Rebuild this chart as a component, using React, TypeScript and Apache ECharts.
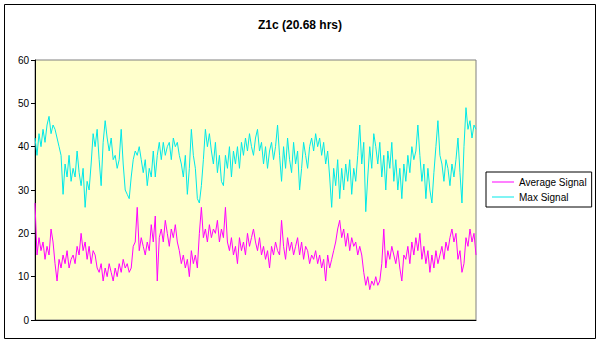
import React, { useEffect, useRef } from "react";
import * as echarts from "echarts";

const title = "Z1c (20.68 hrs)";
const seriesNames = ["Average Signal", "Max Signal"];
const yTicks = { min: 0, max: 60, interval: 10 };

const maxSignal = [
  42, 38, 43, 40, 44, 41, 45, 47, 43, 45,
  44, 42, 40, 38, 29, 36, 33, 38, 32, 35,
  33, 39, 34, 31, 35, 26, 32, 30, 36, 43,
  40, 44, 37, 31, 41, 46, 42, 39, 42, 37,
  38, 35, 37, 44, 36, 30, 29, 28, 33, 37,
  39, 38, 40, 37, 34, 37, 31, 35, 33, 39,
  33, 38, 41, 37, 41, 38, 40, 41, 37, 42,
  40, 41, 38, 36, 33, 38, 29, 35, 44, 38,
  35, 28, 27, 31, 37, 44, 40, 43, 39, 36,
  41, 34, 38, 32, 31, 38, 35, 40, 33, 39,
  36, 40, 35, 41, 38, 42, 39, 43, 40, 38,
  42, 44, 39, 41, 36, 40, 35, 39, 41, 37,
  40, 45, 38, 32, 40, 35, 42, 37, 34, 41,
  36, 39, 30, 35, 41, 38, 35, 40, 42, 39,
  43, 40, 42, 38, 41, 36, 39, 33, 26, 35,
  31, 37, 28, 35, 30, 36, 32, 37, 29, 35,
  32, 38, 45, 36, 41, 25, 33, 40, 35, 43,
  40, 36, 41, 33, 38, 30, 39, 35, 41, 32,
  37, 30, 35, 28, 36, 32, 38, 34, 40, 37,
  39, 45, 38, 32, 36, 28, 35, 30, 27, 34,
  40, 46, 38, 36, 32, 37, 35, 31, 36, 33,
  37, 42, 34, 27, 40, 49, 44, 46, 42, 45,
  44,
];

const averageSignal = [
  27, 15, 19, 16, 18, 14, 17, 15, 21, 18,
  13, 9, 14, 12, 15, 13, 16, 12, 14, 15,
  13, 17, 15, 20, 16, 18, 14, 17, 13, 16,
  15, 12, 11, 13, 9, 12, 10, 13, 11, 9,
  12, 10, 13, 11, 14, 12, 13, 11, 12, 17,
  18, 26, 16, 19, 17, 15, 18, 16, 22, 18,
  24, 9, 19, 21, 18, 23, 20, 17, 21, 19,
  22, 18, 16, 13, 15, 12, 14, 10, 16, 13,
  15, 12, 20, 26, 19, 21, 18, 22, 19, 21,
  20, 23, 18, 21, 19, 26, 18, 16, 19, 15,
  17, 13, 19, 16, 18, 15, 20, 17, 19, 21,
  18, 16, 19, 15, 17, 14, 16, 12, 17, 15,
  18, 16, 15, 23, 17, 14, 19, 16, 18, 15,
  17, 19, 15, 18, 14, 17, 16, 13, 15, 14,
  16, 13, 15, 12, 14, 9, 15, 12, 14, 16,
  18, 21, 23, 19, 21, 17, 20, 16, 19, 17,
  18, 15, 17, 15, 11, 8, 10, 7, 9, 8,
  10, 8, 9, 13, 21, 12, 16, 14, 17, 15,
  13, 16, 12, 9, 15, 14, 17, 13, 18, 15,
  19, 16, 20, 14, 17, 13, 16, 11, 15, 12,
  16, 13, 15, 17, 14, 18, 16, 19, 21, 18,
  20, 14, 16, 11, 13, 19, 17, 21, 18, 20,
  15,
];

const categories = averageSignal.map((_, i) => String(i + 1));

export default function App() {
  const ref = useRef<HTMLDivElement>(null);
  useEffect(() => {
    if (!ref.current) return;
    const chart = echarts.init(ref.current, null, { renderer: "svg" });
    const font = "Arial, 'Liberation Sans', sans-serif";
    chart.setOption({
      animation: false,
      backgroundColor: "#ffffff",
      textStyle: { fontFamily: font },
      title: {
        text: title,
        left: "center",
        top: 14,
        textStyle: { fontSize: 12, fontWeight: "bold", color: "#000", fontFamily: font },
      },
      graphic: [
        {
          type: "rect",
          shape: { x: 4.5, y: 4.5, width: 591, height: 334 },
          style: { fill: "none", stroke: "#000", lineWidth: 1 },
          silent: true,
        },
      ],
      legend: {
        orient: "vertical",
        left: 486,
        top: 172,
        backgroundColor: "#ffffff",
        borderColor: "#000",
        borderWidth: 1,
        padding: [5, 5, 5, 6],
        itemGap: 5,
        itemWidth: 22,
        itemHeight: 1,
        icon: "rect",
        textStyle: { fontSize: 10, color: "#000", fontFamily: font },
        data: seriesNames,
      },
      grid: {
        left: 35,
        top: 60,
        right: 124,
        bottom: 23,
        show: true,
        backgroundColor: "#FFFFCC",
        borderColor: "#808080",
        borderWidth: 1,
      },
      xAxis: {
        type: "category",
        data: categories,
        boundaryGap: false,
        axisLine: { lineStyle: { color: "#000" } },
        axisTick: { show: false },
        axisLabel: { show: false },
        splitLine: { show: false },
      },
      yAxis: {
        type: "value",
        min: yTicks.min,
        max: yTicks.max,
        interval: yTicks.interval,
        axisLine: { show: true, lineStyle: { color: "#000" } },
        axisTick: { show: true, length: 4, lineStyle: { color: "#000" } },
        axisLabel: { fontSize: 10, color: "#000", margin: 6, fontFamily: font },
        splitLine: { show: false },
      },
      series: [
        {
          name: seriesNames[0],
          type: "line",
          data: averageSignal,
          symbol: "none",
          lineStyle: { color: "#FF00FF", width: 1 },
          itemStyle: { color: "#FF00FF" },
        },
        {
          name: seriesNames[1],
          type: "line",
          data: maxSignal,
          symbol: "none",
          lineStyle: { color: "#00E8E8", width: 1 },
          itemStyle: { color: "#00E8E8" },
        },
      ],
    });
    return () => chart.dispose();
  }, []);
  return (
    <div
      ref={ref}
      style={{ position: "fixed", left: 0, top: 0, width: 600, height: 343 }}
    />
  );
}
